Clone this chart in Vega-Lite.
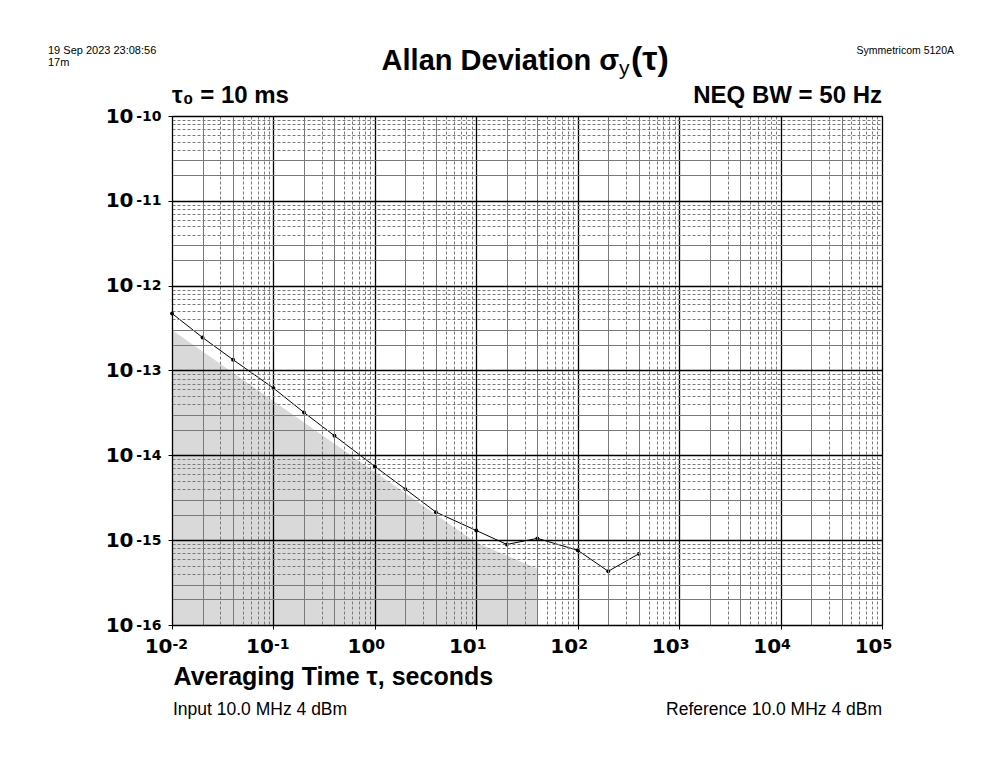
{
  "$schema": "https://vega.github.io/schema/vega-lite/v6.json",
  "width": 710,
  "height": 509,
  "autosize": {"type": "none"},
  "padding": {"left": 172, "top": 116, "right": 121, "bottom": 148},
  "background": "white",
  "config": {"font": "Liberation Sans", "view": {"stroke": "black", "strokeWidth": 1}},
  "datasets": {
    "adev": [
      {"tau": 0.01, "adev": 4.7e-13},
      {"tau": 0.02, "adev": 2.45e-13},
      {"tau": 0.04, "adev": 1.34e-13},
      {"tau": 0.1, "adev": 6.2e-14},
      {"tau": 0.2, "adev": 3.2e-14},
      {"tau": 0.4, "adev": 1.7e-14},
      {"tau": 1, "adev": 7.4e-15},
      {"tau": 2, "adev": 4.0e-15},
      {"tau": 4, "adev": 2.14e-15},
      {"tau": 10, "adev": 1.3e-15},
      {"tau": 20, "adev": 8.9e-16},
      {"tau": 40, "adev": 1.05e-15},
      {"tau": 100, "adev": 7.6e-16},
      {"tau": 200, "adev": 4.3e-16},
      {"tau": 400, "adev": 6.9e-16}
    ],
    "floor": [
      {"tau": 0.01, "floor": 3.0e-13},
      {"tau": 4, "floor": 2.0e-15},
      {"tau": 10, "floor": 9.4e-16},
      {"tau": 40, "floor": 4.6e-16}
    ]
  },
  "layer": [
    {
      "data": {"name": "floor"},
      "mark": {"type": "area", "color": "#d9d9d9"},
      "encoding": {
        "x": {
          "field": "tau", "type": "quantitative",
          "scale": {"type": "log", "domain": [0.01, 100000], "nice": false},
          "axis": {
            "orient": "bottom",
            "values": [0.01,0.02,0.03,0.04,0.05,0.06,0.07,0.08,0.09,0.1,0.2,0.3,0.4,0.5,0.6,0.7,0.8,0.9,1,2,3,4,5,6,7,8,9,10,20,30,40,50,60,70,80,90,100,200,300,400,500,600,700,800,900,1000,2000,3000,4000,5000,6000,7000,8000,9000,10000,20000,30000,40000,50000,60000,70000,80000,90000,100000],
            "grid": true,
            "gridColor": {"condition": {"test": "abs(log(datum.value)/LN10 - round(log(datum.value)/LN10)) < 0.001", "value": "black"}, "value": "#7a7a7a"},
            "gridDash": {"condition": {"test": "abs(log(datum.value)/LN10 - round(log(datum.value)/LN10)) < 0.001 || abs(datum.value / pow(10, floor(log(datum.value)/LN10 + 0.001)) - 2) < 0.01 || abs(datum.value / pow(10, floor(log(datum.value)/LN10 + 0.001)) - 4) < 0.01", "value": []}, "value": [3, 2]},
            "gridWidth": {"condition": {"test": "abs(log(datum.value)/LN10 - round(log(datum.value)/LN10)) < 0.001", "value": 1.3}, "value": 1},
            "zindex": 1,
            "ticks": false,
            "domain": true,
            "domainColor": "black",
            "domainWidth": 1,
            "labelExpr": "abs(log(datum.value)/LN10 - round(log(datum.value)/LN10)) < 0.001 ? '10' : ''",
            "labelAlign": "right",
            "labelDx": 5,
            "labelBaseline": "top",
            "labelPadding": 11,
            "labelFont": "DejaVu Sans",
            "labelFontSize": 20,
            "labelFontWeight": "bold",
            "labelColor": "black",
            "labelOverlap": false,
            "labelFlush": false,
            "labelBound": false,
            "title": "Averaging Time τ, seconds",
            "titleFont": "Liberation Sans",
            "titleFontSize": 25,
            "titleFontWeight": "bold",
            "titleColor": "black",
            "titleAnchor": "start",
            "titleAlign": "left",
            "titleBaseline": "alphabetic",
            "titleX": 1,
            "titleY": 59
          }
        },
        "y": {
          "field": "floor", "type": "quantitative",
          "scale": {"type": "log", "domain": [1e-16, 1e-10], "nice": false},
          "axis": {
            "orient": "left",
            "values": [1e-16,2e-16,3e-16,4e-16,5e-16,6e-16,7e-16,8e-16,9e-16,1e-15,2e-15,3e-15,4e-15,5e-15,6e-15,7e-15,8e-15,9e-15,1e-14,2e-14,3e-14,4e-14,5e-14,6e-14,7e-14,8e-14,9e-14,1e-13,2e-13,3e-13,4e-13,5e-13,6e-13,7e-13,8e-13,9e-13,1e-12,2e-12,3e-12,4e-12,5e-12,6e-12,7e-12,8e-12,9e-12,1e-11,2e-11,3e-11,4e-11,5e-11,6e-11,7e-11,8e-11,9e-11,1e-10],
            "grid": true,
            "gridColor": {"condition": {"test": "abs(log(datum.value)/LN10 - round(log(datum.value)/LN10)) < 0.001", "value": "black"}, "value": "#7a7a7a"},
            "gridDash": {"condition": {"test": "abs(log(datum.value)/LN10 - round(log(datum.value)/LN10)) < 0.001 || abs(datum.value / pow(10, floor(log(datum.value)/LN10 + 0.001)) - 2) < 0.01 || abs(datum.value / pow(10, floor(log(datum.value)/LN10 + 0.001)) - 3) < 0.01", "value": []}, "value": [3, 2]},
            "gridWidth": {"condition": {"test": "abs(log(datum.value)/LN10 - round(log(datum.value)/LN10)) < 0.001", "value": 1.3}, "value": 1},
            "zindex": 1,
            "ticks": false,
            "domain": true,
            "domainColor": "black",
            "domainWidth": 1,
            "labelExpr": "abs(log(datum.value)/LN10 - round(log(datum.value)/LN10)) < 0.001 ? '10' : ''",
            "labelAlign": "right",
            "labelBaseline": "middle",
            "labelPadding": 39,
            "labelFont": "DejaVu Sans",
            "labelFontSize": 20,
            "labelFontWeight": "bold",
            "labelColor": "black",
            "labelOverlap": false,
            "labelFlush": false,
            "labelBound": false,
            "title": null
          }
        },
        "y2": {"datum": 1e-16}
      }
    },
    {
      "data": {"name": "adev"},
      "mark": {"type": "line", "color": "black", "strokeWidth": 1, "point": {"filled": true, "size": 15, "color": "black"}},
      "encoding": {
        "x": {
          "field": "tau", "type": "quantitative",
          "scale": {"type": "log", "domain": [0.01, 100000], "nice": false},
          "axis": {
            "orient": "bottom",
            "values": [0.01, 0.1, 1, 10, 100, 1000, 10000, 100000],
            "grid": false,
            "domain": false,
            "ticks": true,
            "tickSize": 4,
            "tickColor": "black",
            "labelExpr": "'' + round(log(datum.value)/LN10)",
            "labelAlign": "left",
            "labelDx": 6,
            "labelBaseline": "top",
            "labelPadding": 8,
            "labelFont": "DejaVu Sans",
            "labelFontSize": 14,
            "labelFontWeight": "bold",
            "labelColor": "black",
            "labelOverlap": false,
            "labelFlush": false,
            "labelBound": false,
            "title": null
          }
        },
        "y": {
          "field": "adev", "type": "quantitative",
          "scale": {"type": "log", "domain": [1e-16, 1e-10], "nice": false},
          "axis": {
            "orient": "left",
            "values": [1e-16, 1e-15, 1e-14, 1e-13, 1e-12, 1e-11, 1e-10],
            "grid": false,
            "domain": false,
            "ticks": true,
            "tickSize": 4,
            "tickColor": "black",
            "labelExpr": "'' + round(log(datum.value)/LN10)",
            "labelAlign": "right",
            "labelBaseline": "middle",
            "labelDy": -3,
            "labelPadding": 7,
            "labelFont": "DejaVu Sans",
            "labelFontSize": 14,
            "labelFontWeight": "bold",
            "labelColor": "black",
            "labelOverlap": false,
            "labelFlush": false,
            "labelBound": false,
            "title": null
          }
        }
      }
    },
    {
      "data": {"values": [{"text": "τ₀ = 10 ms"}]},
      "mark": {"type": "text", "align": "left", "baseline": "alphabetic", "dy": -13, "fontSize": 24, "fontWeight": "bold", "font": "Liberation Sans", "color": "black"},
      "encoding": {"x": {"datum": 0.01, "type": "quantitative", "axis": null}, "y": {"datum": 1e-10, "type": "quantitative", "axis": null}, "text": {"field": "text"}}
    },
    {
      "data": {"values": [{"text": "NEQ BW = 50 Hz"}]},
      "mark": {"type": "text", "align": "right", "baseline": "alphabetic", "dy": -13, "fontSize": 24, "fontWeight": "bold", "font": "Liberation Sans", "color": "black"},
      "encoding": {"x": {"datum": 100000, "type": "quantitative", "axis": null}, "y": {"datum": 1e-10, "type": "quantitative", "axis": null}, "text": {"field": "text"}}
    },
    {
      "data": {"values": [{"text": "Allan Deviation σ"}]},
      "mark": {"type": "text", "align": "right", "baseline": "alphabetic", "dx": 92, "dy": -46, "fontSize": 29, "fontWeight": "bold", "font": "Liberation Sans", "color": "black"},
      "encoding": {"x": {"datum": 31.6227766, "type": "quantitative", "axis": null}, "y": {"datum": 1e-10, "type": "quantitative", "axis": null}, "text": {"field": "text"}}
    },
    {
      "data": {"values": [{"text": "y"}]},
      "mark": {"type": "text", "align": "left", "baseline": "alphabetic", "dx": 92, "dy": -41, "fontSize": 21, "font": "Liberation Sans", "color": "black"},
      "encoding": {"x": {"datum": 31.6227766, "type": "quantitative", "axis": null}, "y": {"datum": 1e-10, "type": "quantitative", "axis": null}, "text": {"field": "text"}}
    },
    {
      "data": {"values": [{"text": "(τ)"}]},
      "mark": {"type": "text", "align": "left", "baseline": "alphabetic", "dx": 104, "dy": -46, "fontSize": 34, "fontWeight": "bold", "font": "Liberation Sans", "color": "black"},
      "encoding": {"x": {"datum": 31.6227766, "type": "quantitative", "axis": null}, "y": {"datum": 1e-10, "type": "quantitative", "axis": null}, "text": {"field": "text"}}
    },
    {
      "data": {"values": [{"text": "19 Sep 2023 23:08:56"}]},
      "mark": {"type": "text", "align": "left", "baseline": "alphabetic", "dx": -124, "dy": -62, "fontSize": 11, "font": "Liberation Sans", "color": "black"},
      "encoding": {"x": {"datum": 0.01, "type": "quantitative", "axis": null}, "y": {"datum": 1e-10, "type": "quantitative", "axis": null}, "text": {"field": "text"}}
    },
    {
      "data": {"values": [{"text": "17m"}]},
      "mark": {"type": "text", "align": "left", "baseline": "alphabetic", "dx": -124, "dy": -50.5, "fontSize": 11, "font": "Liberation Sans", "color": "black"},
      "encoding": {"x": {"datum": 0.01, "type": "quantitative", "axis": null}, "y": {"datum": 1e-10, "type": "quantitative", "axis": null}, "text": {"field": "text"}}
    },
    {
      "data": {"values": [{"text": "Symmetricom 5120A"}]},
      "mark": {"type": "text", "align": "right", "baseline": "alphabetic", "dx": 72, "dy": -62, "fontSize": 10.5, "font": "Liberation Sans", "color": "black"},
      "encoding": {"x": {"datum": 100000, "type": "quantitative", "axis": null}, "y": {"datum": 1e-10, "type": "quantitative", "axis": null}, "text": {"field": "text"}}
    },
    {
      "data": {"values": [{"text": "Input 10.0 MHz 4 dBm"}]},
      "mark": {"type": "text", "align": "left", "baseline": "alphabetic", "dx": 1, "dy": 90, "fontSize": 17.5, "font": "Liberation Sans", "color": "black"},
      "encoding": {"x": {"datum": 0.01, "type": "quantitative", "axis": null}, "y": {"datum": 1e-16, "type": "quantitative", "axis": null}, "text": {"field": "text"}}
    },
    {
      "data": {"values": [{"text": "Reference 10.0 MHz 4 dBm"}]},
      "mark": {"type": "text", "align": "right", "baseline": "alphabetic", "dx": 0, "dy": 90, "fontSize": 17.5, "font": "Liberation Sans", "color": "black"},
      "encoding": {"x": {"datum": 100000, "type": "quantitative", "axis": null}, "y": {"datum": 1e-16, "type": "quantitative", "axis": null}, "text": {"field": "text"}}
    }
  ],
  "resolve": {"axis": {"x": "independent", "y": "independent"}}
}
